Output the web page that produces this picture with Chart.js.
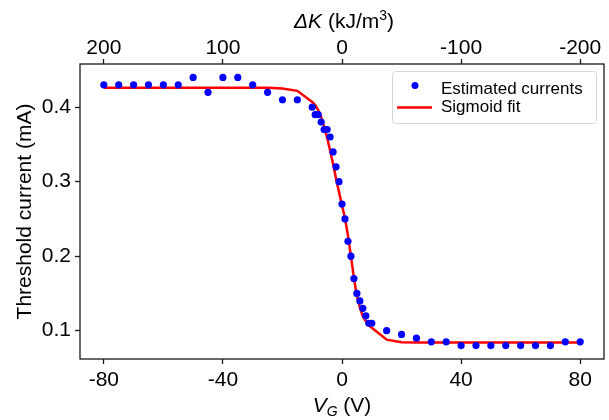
<!DOCTYPE html>
<html>
<head>
<meta charset="utf-8">
<script src="https://cdn.jsdelivr.net/npm/chart.js@4/dist/chart.umd.min.js"></script>
<style>
  body { margin: 0; background: #fff; }
  #wrap { width: 609px; height: 420px; }
</style>
</head>
<body>
<div id="wrap"><canvas id="myChart" width="609" height="420"></canvas></div>
<script>
// gate voltage (V) for each estimate
const vg = [-80, -75, -70, -65, -60, -55, -50, -45, -40, -35, -30, -25, -20, -15,
  -10, -9, -8, -7, -6, -5, -4, -3, -2, -1, 0, 1, 2, 3, 4, 5, 6, 7, 8, 9, 10,
  15, 20, 25, 30, 35, 40, 45, 50, 55, 60, 65, 70, 75, 80];

// estimated threshold currents (mA)
const current = [0.43, 0.43, 0.43, 0.43, 0.43, 0.43, 0.44, 0.42, 0.44, 0.44, 0.43, 0.42, 0.41, 0.41,
  0.40, 0.39, 0.39, 0.38, 0.37, 0.37, 0.36, 0.34, 0.32, 0.30, 0.27, 0.25, 0.22, 0.20, 0.17, 0.15, 0.14, 0.13, 0.12, 0.11, 0.11,
  0.10, 0.095, 0.09, 0.085, 0.085, 0.08, 0.08, 0.08, 0.08, 0.08, 0.08, 0.08, 0.085, 0.085];

// sigmoid fit at the same voltages (mA)
const fitCurrent = [0.426, 0.426, 0.426, 0.426, 0.426, 0.426, 0.426, 0.426, 0.426, 0.426, 0.426, 0.426, 0.425, 0.422,
  0.407, 0.403, 0.396, 0.387, 0.374, 0.359, 0.342, 0.324, 0.304, 0.286, 0.268, 0.251, 0.228, 0.200, 0.171, 0.147, 0.131, 0.119, 0.113, 0.107, 0.104,
  0.088, 0.0845, 0.084, 0.084, 0.084, 0.084, 0.084, 0.084, 0.084, 0.084, 0.084, 0.084, 0.084, 0.084];

const vgTicks = [-80, -40, 0, 40, 80];
const dkTicks = [200, 100, 0, -100, -200];
const currentTicks = [0.1, 0.2, 0.3, 0.4];

const FONT = '"Liberation Sans", Arial, sans-serif';
const INK = '#1a1a1a';

function setTicks(values) {
  return (scale) => { scale.ticks = values.map((v) => ({ value: v })); };
}

function drawParts(ctx, parts, cx, baseline) {
  // parts: [text, font, dy]
  let total = 0;
  parts.forEach((p) => { ctx.font = p[1]; total += ctx.measureText(p[0]).width; });
  let x = cx - total / 2;
  parts.forEach((p) => {
    ctx.font = p[1];
    ctx.fillText(p[0], x, baseline + p[2]);
    x += ctx.measureText(p[0]).width;
  });
}

const overlay = {
  id: 'overlay',
  afterDatasetsDraw(chart) {
    const { ctx, chartArea: a } = chart;
    ctx.save();

    // frame
    ctx.strokeStyle = INK;
    ctx.lineWidth = 1.3;
    ctx.strokeRect(a.left, a.top, a.right - a.left, a.bottom - a.top);

    // legend
    const lx = 392.5, ly = 71.5, lw = 204, lh = 52;
    ctx.beginPath();
    ctx.roundRect(lx, ly, lw, lh, 3);
    ctx.fillStyle = 'rgba(255,255,255,0.8)';
    ctx.fill();
    ctx.strokeStyle = '#d6d6d6';
    ctx.lineWidth = 1;
    ctx.stroke();

    const sc = chart.data.datasets[0];
    const ln = chart.data.datasets[1];
    ctx.fillStyle = sc.backgroundColor;
    ctx.beginPath();
    ctx.arc(415, 85.5, 3.5, 0, Math.PI * 2);
    ctx.fill();
    ctx.strokeStyle = ln.borderColor;
    ctx.lineWidth = ln.borderWidth;
    ctx.beginPath();
    ctx.moveTo(397, 107.5);
    ctx.lineTo(432, 107.5);
    ctx.stroke();

    ctx.fillStyle = '#000';
    ctx.textBaseline = 'alphabetic';
    ctx.textAlign = 'left';
    ctx.font = '17px ' + FONT;
    ctx.fillText(sc.label, 441, 93.5);
    ctx.fillText(ln.label, 441, 111.5);

    // axis titles
    const mid = (a.left + a.right) / 2;
    drawParts(ctx, [
      ['V', 'italic 21px ' + FONT, 0],
      ['G', 'italic 14px ' + FONT, 4],
      [' (V)', '21px ' + FONT, 0]
    ], mid, 411.5);

    drawParts(ctx, [
      ['ΔK', 'italic 21px ' + FONT, 0],
      [' (kJ/m', '21px ' + FONT, 0],
      ['3', '14px ' + FONT, -8],
      [')', '21px ' + FONT, 0]
    ], mid + 2, 28);

    ctx.translate(31, (a.top + a.bottom) / 2);
    ctx.rotate(-Math.PI / 2);
    ctx.textAlign = 'center';
    ctx.font = '21px ' + FONT;
    ctx.fillText('Threshold current (mA)', 0, 0);

    ctx.restore();
  }
};

function mainEvent() {
  const target = document.querySelector('#myChart');
  const tickFont = { family: FONT, size: 21 };
  const grid = {
    drawOnChartArea: false,
    drawTicks: true,
    tickLength: 5,
    tickColor: INK,
    tickWidth: 1.3
  };

  const config = {
    type: 'scatter',
    data: {
      datasets: [{
        label: 'Estimated currents',
        data: vg.map((v, i) => ({ x: v, y: current[i] })),
        backgroundColor: '#0000ff',
        borderWidth: 0,
        pointRadius: 3.6,
        showLine: false,
        order: 0
      }, {
        label: 'Sigmoid fit',
        data: vg.map((v, i) => ({ x: v, y: fitCurrent[i] })),
        borderColor: '#ff0000',
        backgroundColor: '#ff0000',
        borderWidth: 2.5,
        pointRadius: 0,
        showLine: true,
        tension: 0,
        order: 1
      }]
    },
    plugins: [overlay],
    options: {
      responsive: false,
      animation: false,
      devicePixelRatio: 1,
      layout: { padding: { left: 0, right: 5, top: 0, bottom: 0 } },
      plugins: { legend: { display: false }, tooltip: { enabled: false } },
      scales: {
        x: {
          type: 'linear',
          position: 'bottom',
          min: -88,
          max: 88,
          afterBuildTicks: setTicks(vgTicks),
          afterFit: (s) => { s.height = 61; },
          grid: grid,
          border: { display: false },
          ticks: { font: tickFont, color: '#000', padding: 4, maxRotation: 0 }
        },
        xTop: {
          type: 'linear',
          axis: 'x',
          position: 'top',
          min: -220,
          max: 220,
          reverse: true,
          afterBuildTicks: setTicks(dkTicks),
          afterFit: (s) => { s.height = 64; },
          grid: grid,
          border: { display: false },
          ticks: { font: tickFont, color: '#000', padding: -2, maxRotation: 0 }
        },
        y: {
          type: 'linear',
          position: 'left',
          min: 0.062,
          max: 0.458,
          afterBuildTicks: setTicks(currentTicks),
          afterFit: (s) => { s.width = 80; },
          grid: grid,
          border: { display: false },
          ticks: {
            font: tickFont,
            color: '#000',
            padding: 4,
            callback: (v) => v.toFixed(1)
          }
        }
      }
    }
  };

  return new Chart(target, config);
}

document.addEventListener('DOMContentLoaded', () => mainEvent());
</script>
</body>
</html>
